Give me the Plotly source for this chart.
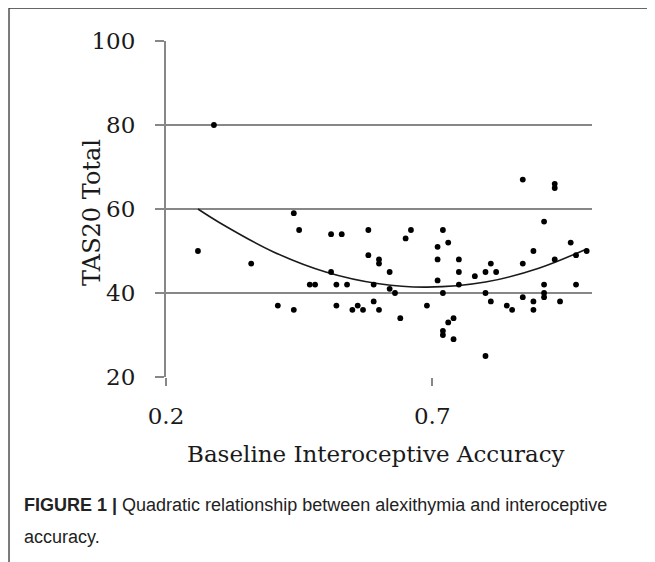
import plotly.graph_objects as go

# Scatter data
accuracy = [0.29, 0.26, 0.36, 0.44, 0.45, 0.41, 0.44, 0.47, 0.48, 0.51, 0.53, 0.51, 0.52, 0.54, 0.52,
            0.87, 0.93, 0.93, 0.58, 0.66, 0.65, 0.72, 0.73, 0.71, 0.71, 0.58, 0.60, 0.60, 0.62, 0.59,
            0.62, 0.63, 0.59, 0.56, 0.55, 0.57, 0.60, 0.64, 0.69, 0.71, 0.72, 0.75, 0.75, 0.75, 0.74,
            0.73, 0.72, 0.72, 0.74, 0.78, 0.80, 0.81, 0.82, 0.80, 0.81, 0.84, 0.85, 0.80, 0.87, 0.89,
            0.87, 0.89, 0.89, 0.91, 0.91, 0.91, 0.91, 0.93, 0.94, 0.96, 0.97, 0.97, 0.99]
tas20 = [80, 50, 47, 59, 55, 37, 36, 42, 42, 54, 54, 45, 42, 42, 37,
         67, 66, 65, 55, 55, 53, 55, 52, 51, 48, 49, 48, 47, 45, 42,
         41, 40, 38, 37, 36, 36, 36, 34, 37, 43, 40, 48, 45, 42, 34,
         33, 31, 30, 29, 44, 45, 47, 45, 40, 38, 37, 36, 25, 47, 50,
         39, 38, 36, 57, 42, 40, 39, 48, 38, 52, 49, 42, 50]

# Quadratic fit curve
curve_x = [0.26, 0.30, 0.40, 0.50, 0.60, 0.69, 0.80, 0.90, 0.99]
curve_y = [60.0, 56.8, 49.9, 45.0, 42.2, 41.4, 42.6, 45.9, 50.5]

x_ticks = [0.2, 0.7]
x_tick_labels = ["0.2", "0.7"]
y_ticks = [20, 40, 60, 80, 100]
y_tick_labels = ["20", "40", "60", "80", "100"]

SERIF = "DejaVu Serif"
GRID = "#878787"
TEXT = "#1a1a1a"

fig = go.Figure()
fig.add_trace(go.Scatter(x=curve_x, y=curve_y, mode="lines",
                         line=dict(color="#1a1a1a", width=1.6, shape="spline"),
                         hoverinfo="skip", showlegend=False))
fig.add_trace(go.Scatter(x=accuracy, y=tas20, mode="markers",
                         marker=dict(color="black", size=5.8),
                         showlegend=False))

fig.update_layout(
    width=647, height=554,
    margin=dict(l=158, r=63, t=33, b=185, autoexpand=False),
    paper_bgcolor="white", plot_bgcolor="white",
    font=dict(family=SERIF, size=23, color=TEXT),
    xaxis=dict(range=[0.2, 1.0], tickvals=x_ticks, ticktext=x_tick_labels,
               showgrid=False, zeroline=False, showline=False,
               ticks="outside", ticklen=8, tickwidth=2, tickcolor=GRID,
               ticklabelstandoff=10, tickfont=dict(family=SERIF, size=23, color=TEXT)),
    yaxis=dict(range=[20, 100], tickvals=y_ticks, ticktext=y_tick_labels,
               showgrid=True, gridcolor=GRID, gridwidth=2, zeroline=False,
               showline=True, linecolor=GRID, linewidth=2,
               ticks="outside", ticklen=9, tickwidth=2, tickcolor=GRID,
               ticklabelstandoff=15, tickfont=dict(family=SERIF, size=23, color=TEXT)),
    annotations=[
        dict(text="Baseline Interoceptive Accuracy", xref="paper", yref="paper",
             x=0.494, y=-0.229, xanchor="center", yanchor="middle", showarrow=False,
             font=dict(family=SERIF, size=23, color=TEXT)),
        dict(text="TAS20 Total", xref="paper", yref="paper", textangle=-90,
             x=-0.174, y=0.491, xanchor="center", yanchor="middle", showarrow=False,
             font=dict(family=SERIF, size=24, color=TEXT)),
        dict(text="<b>FIGURE 1 |</b> Quadratic relationship between alexithymia and interoceptive",
             xref="paper", yref="paper", x=-0.338, y=-0.381, xanchor="left", yanchor="middle",
             showarrow=False, font=dict(family="Liberation Sans", size=18, color="#222222")),
        dict(text="accuracy.",
             xref="paper", yref="paper", x=-0.338, y=-0.476, xanchor="left", yanchor="middle",
             showarrow=False, font=dict(family="Liberation Sans", size=18, color="#222222")),
    ],
    shapes=[
        dict(type="line", xref="paper", yref="paper", x0=-0.3685, x1=-0.3685, y0=1.098, y1=-0.56,
             line=dict(color="#7a7a7a", width=2)),
        dict(type="line", xref="paper", yref="paper", x0=-0.3685, x1=1.16, y0=1.098, y1=1.098,
             line=dict(color="#333333", width=1.5)),
    ],
)

fig.write_html("out.html")
